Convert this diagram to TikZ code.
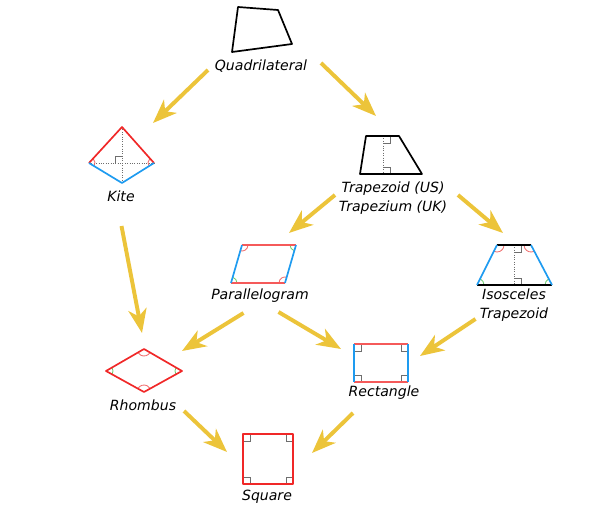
\documentclass[tikz,border=0pt]{standalone}
\usepackage{fontspec}
\setmainfont{DejaVu Sans}
\usetikzlibrary{arrows.meta,fit}
\definecolor{arrowyellow}{RGB}{236,196,58}
\definecolor{shapered}{RGB}{240,40,40}
\definecolor{lightred}{RGB}{245,90,90}
\definecolor{shapeblue}{RGB}{30,155,240}
\definecolor{anglered}{RGB}{240,110,110}
\definecolor{anglegreen}{RGB}{110,205,110}
\definecolor{markgray}{RGB}{110,110,110}
\tikzset{
  isa/.style={line width=2.8pt,arrowyellow,-{Stealth[length=17pt,width=13pt,inset=5pt]}},
  shapename/.style={font=\fontsize{10}{13}\selectfont\itshape,align=center,inner sep=1pt},
  shapebox/.style={inner sep=0pt,outer sep=0pt},
  edge/.style={line width=1.2pt,line join=round},
  angmark/.style={line width=0.6pt},
  rightmark/.style={line width=0.7pt,markgray},
  dotline/.style={line width=0.7pt,markgray,densely dotted}
}
\begin{document}
\begin{tikzpicture}[x=0.025cm,y=-0.025cm]
\useasboundingbox (0,0) rectangle (600,519);
% quadrilateral
\draw[edge] (238,7) -- (278,10) -- (292,44) -- (232,52) -- cycle;
\node[shapebox,fit={(232,7) (292,52)}] (quadS) {};
\node[shapename] (quad) at (261,66) {Quadrilateral};
% trapezoid
\draw[dotline] (383,136) -- (383,174);
\draw[rightmark] (383,143) -| (390,136);
\draw[rightmark] (383,167) -| (390,174);
\draw[edge] (366,136) -- (399,136) -- (422,174) -- (360,174) -- cycle;
\node[shapebox,fit={(360,136) (422,174)}] (trapS) {};
\node[shapename] (trap) at (393,198) {Trapezoid (US)\\Trapezium (UK)};
% kite
\draw[dotline] (122,127) -- (122,183);
\draw[dotline] (89,163) -- (154,163);
\draw[rightmark] (115,163) |- (122,156);
\draw[angmark,anglered] (89,163) ++(-47:6) arc[start angle=-47,end angle=31,radius=6];
\draw[angmark,anglered] (154,163) ++(149:6) arc[start angle=149,end angle=227,radius=6];
\draw[edge,shapered] (89,163) -- (122,127) -- (154,163);
\draw[edge,shapeblue] (89,163) -- (122,183) -- (154,163);
\node[shapebox,fit={(89,127) (154,183)}] (kiteS) {};
\node[shapename] (kite) at (121,196) {Kite};
% parallelogram
\draw[angmark,anglered] (242,245) ++(0:6) arc[start angle=0,end angle=106,radius=6];
\draw[angmark,anglegreen] (296,245) ++(106:6) arc[start angle=106,end angle=180,radius=6];
\draw[angmark,anglered] (285,283) ++(180:6) arc[start angle=180,end angle=286,radius=6];
\draw[angmark,anglegreen] (231,283) ++(286:6) arc[start angle=286,end angle=360,radius=6];
\draw[edge,lightred] (242,245) -- (296,245);
\draw[edge,lightred] (231,283) -- (285,283);
\draw[edge,shapeblue] (242,245) -- (231,283);
\draw[edge,shapeblue] (296,245) -- (285,283);
\node[shapebox,fit={(231,245) (296,283)}] (paraS) {};
\node[shapename] (para) at (260,296) {Parallelogram};
% isosceles trapezoid
\draw[dotline] (514,245) -- (514,285);
\draw[rightmark] (514,252) -| (521,245);
\draw[rightmark] (514,278) -| (521,285);
\draw[angmark,anglered] (497,245) ++(0:7) arc[start angle=0,end angle=117,radius=7];
\draw[angmark,anglered] (531,245) ++(62:7) arc[start angle=62,end angle=180,radius=7];
\draw[angmark,anglegreen] (477,285) ++(297:7) arc[start angle=297,end angle=360,radius=7];
\draw[angmark,anglegreen] (552,285) ++(180:7) arc[start angle=180,end angle=242,radius=7];
\draw[edge] (497,245) -- (531,245);
\draw[edge] (477,285) -- (552,285);
\draw[edge,shapeblue] (497,245) -- (477,285);
\draw[edge,shapeblue] (531,245) -- (552,285);
\node[shapebox,fit={(477,245) (552,285)}] (isoS) {};
\node[shapename] (iso) at (514,305) {Isosceles\\Trapezoid};
% rhombus
\draw[angmark,anglered] (144,349) ++(30:7) arc[start angle=30,end angle=150,radius=7];
\draw[angmark,anglered] (144,392) ++(209:7) arc[start angle=209,end angle=331,radius=7];
\draw[angmark,anglegreen] (106,371) ++(-30:7) arc[start angle=-30,end angle=29,radius=7];
\draw[angmark,anglegreen] (182,371) ++(151:7) arc[start angle=151,end angle=210,radius=7];
\draw[edge,shapered] (144,349) -- (182,371) -- (144,392) -- (106,371) -- cycle;
\node[shapebox,fit={(106,349) (182,392)}] (rhomS) {};
\node[shapename] (rhom) at (143,405) {Rhombus};
% rectangle
\draw[rightmark] (354,351) -| (361,344);
\draw[rightmark] (408,351) -| (401,344);
\draw[rightmark] (354,375) -| (361,382);
\draw[rightmark] (408,375) -| (401,382);
\draw[edge,lightred] (354,344) -- (408,344);
\draw[edge,lightred] (354,382) -- (408,382);
\draw[edge,shapeblue] (354,344) -- (354,382);
\draw[edge,shapeblue] (408,344) -- (408,382);
\node[shapebox,fit={(354,344) (408,382)}] (rectS) {};
\node[shapename] (rect) at (384,393) {Rectangle};
% square
\draw[rightmark] (243,441) -| (250,434);
\draw[rightmark] (293,441) -| (286,434);
\draw[rightmark] (243,477) -| (250,484);
\draw[rightmark] (293,477) -| (286,484);
\draw[edge,shapered,line width=1.5pt] (243,434) rectangle (293,484);
\node[shapebox,fit={(243,434) (293,484)}] (sqS) {};
\node[shapename] (sq) at (267,497) {Square};
% is-a arrows
\draw[isa] ([shift={(-24,18)}]quadS.south west) -- ([shift={(-1,-4)}]kiteS.north east);
\draw[isa] ([shift={(29,11)}]quadS.south east) -- ([shift={(-15,-20)}]trapS.north);
\draw[isa] ([shift={(0,43)}]kiteS.south) -- ([shift={(-2,-16)}]rhomS.north);
\draw[isa] ([shift={(-25,21)}]trapS.south west) -- ([shift={(-7,-12)}]paraS.north east);
\draw[isa] ([shift={(36,21)}]trapS.south east) -- ([shift={(26,-12)}]isoS.north west);
\draw[isa] ([shift={(-20,30)}]paraS.south) -- ([shift={(0,2)}]rhomS.north east);
\draw[isa] ([shift={(15,29)}]paraS.south) -- ([shift={(-13,5)}]rectS.north west);
\draw[isa] ([shift={(-39,34)}]isoS.south) -- ([shift={(12,12)}]rectS.north east);
\draw[isa] ([shift={(2,19)}]rhomS.south east) -- ([shift={(-16,18)}]sqS.north west);
\draw[isa] ([shift={(-28,31)}]rectS.south) -- ([shift={(19,19)}]sqS.north east);
\end{tikzpicture}
\end{document}
